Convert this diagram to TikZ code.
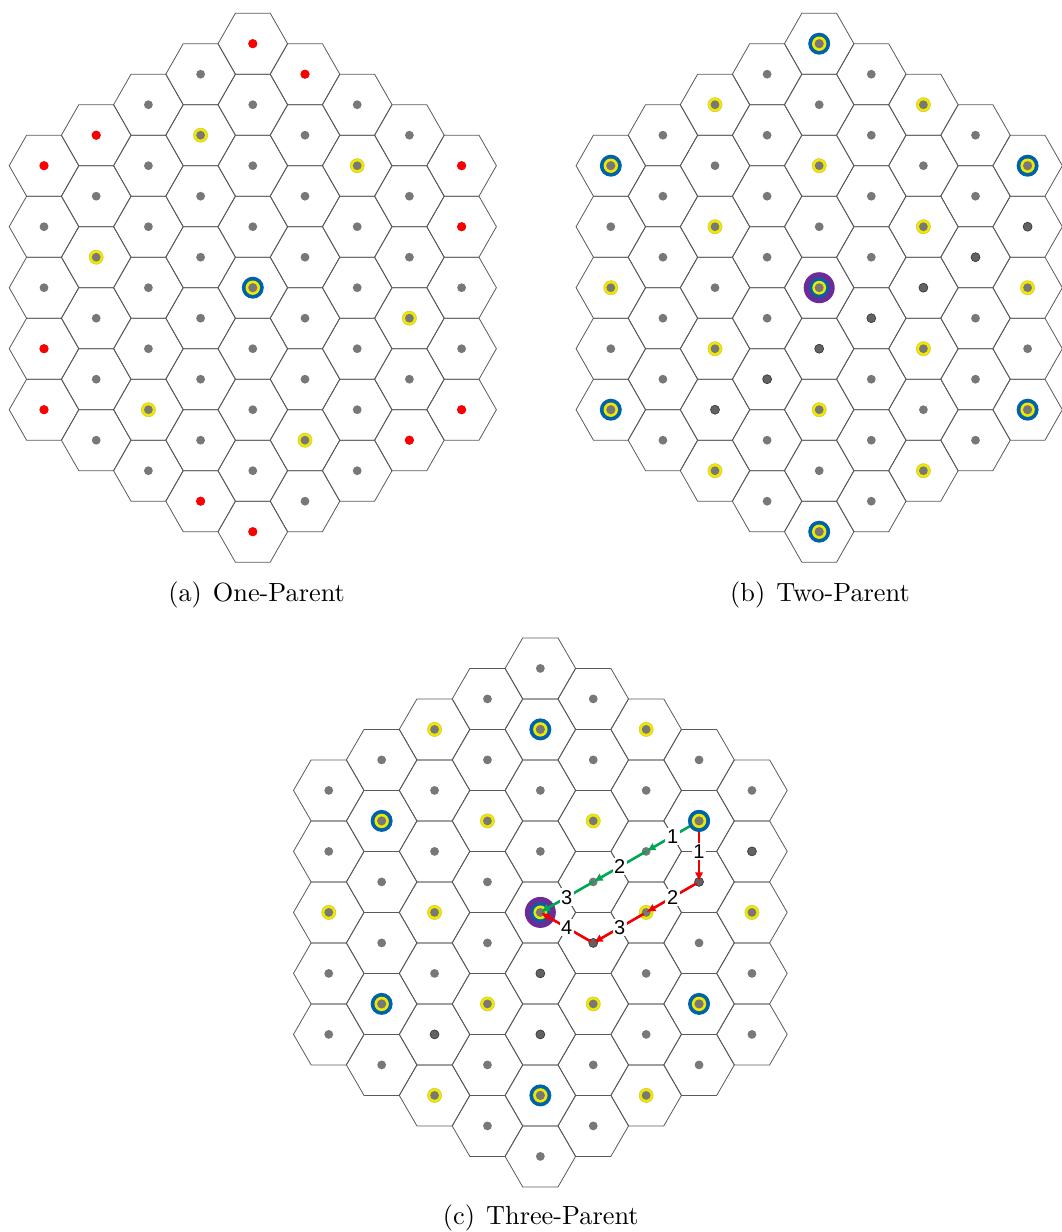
\documentclass[tikz,border=0pt]{standalone}
\usepackage{fontspec}
\newfontfamily\lblfont{Liberation Sans}
\newfontfamily\capfont{lmroman10-regular}[Extension=.otf]
\usetikzlibrary{arrows.meta}
\definecolor{hexc}{RGB}{90,90,90}
\definecolor{dotc}{RGB}{120,120,120}
\definecolor{darkdot}{RGB}{98,98,98}
\definecolor{darkedge}{RGB}{55,55,55}
\definecolor{redc}{RGB}{250,0,0}
\definecolor{yelc}{RGB}{240,232,0}
\definecolor{yeledge}{RGB}{205,198,60}
\definecolor{bluec}{RGB}{0,98,168}
\definecolor{purc}{RGB}{108,44,150}
\definecolor{arrgreen}{RGB}{0,166,81}
\definecolor{arrred}{RGB}{240,0,0}
\tikzset{
  hexedge/.style={draw=hexc, line width=0.8pt, line join=miter},
  captext/.style={inner sep=0pt, font=\capfont\fontsize{26.3}{30}\selectfont},
  steplbl/.style={fill=white, inner sep=1.6pt, font=\lblfont\fontsize{20}{20}\selectfont},
  garrow/.style={draw=arrgreen, line width=2.6pt, -{Latex[length=9pt,width=8.5pt]}, shorten >=0.5pt},
  rarrow/.style={draw=arrred, line width=2.6pt, -{Latex[length=9pt,width=8.5pt]}, shorten >=0.5pt, shorten <=3pt},
}
\newcommand\HexGridDraw{%
  \foreach \q in {-4,...,4}{%
    \pgfmathtruncatemacro\km{8-abs(\q)}%
    \foreach \j in {0,...,\km}{%
      \pgfmathtruncatemacro\kk{2*\j-\km}%
      \draw[hexedge] (\q,\kk) +(2/3,0) -- +(1/3,1) -- +(-1/3,1) -- +(-2/3,0) -- +(-1/3,-1) -- +(1/3,-1) -- cycle;
      \fill[dotc] (\q,\kk) circle[radius=4.4pt];
    }%
  }%
}
\newcommand\Rmark[1]{\fill[redc] (#1) circle[radius=4.6pt];}
\newcommand\Dmark[1]{\filldraw[fill=darkdot, draw=darkedge, line width=0.6pt] (#1) circle[radius=4.5pt];}
\newcommand\Ymark[1]{\filldraw[fill=yelc, draw=yeledge, line width=0.5pt] (#1) circle[radius=7.1pt];
  \fill[dotc] (#1) circle[radius=4.4pt];}
\newcommand\Bmark[1]{\fill[bluec] (#1) circle[radius=11pt];
  \fill[yelc] (#1) circle[radius=7.2pt];
  \fill[dotc] (#1) circle[radius=4.6pt];}
\newcommand\Pmark[1]{\fill[purc] (#1) circle[radius=15.5pt];
  \fill[bluec] (#1) circle[radius=10pt];
  \fill[yelc] (#1) circle[radius=6.9pt];
  \fill[dotc] (#1) circle[radius=4.5pt];}
\begin{document}
\begin{tikzpicture}[x=1pt,y=-1pt]
\useasboundingbox (0,0) rectangle (1062,1232);
% ---------------- (a) One-Parent
\begin{scope}[shift={(252.8,287.7)}, x=52.2pt, y=-30.5pt]
  \HexGridDraw
  \foreach \a/\b in {0/-8, 1/-7, -3/-5, -4/-4, 4/-4, 4/-2, -4/2, -4/4, 4/4, 3/5, -1/7, 0/8}{\Rmark{\a,\b}}
  \foreach \a/\b in {-1/-5, 2/-4, -3/-1, 3/1, -2/4, 1/5}{\Ymark{\a,\b}}
  \Bmark{0,0}
\end{scope}
\node[captext, anchor=base] (capa) at (256.6,601.3) {(a)\hspace{0.42em}One-Parent};
% ---------------- (b) Two-Parent
\begin{scope}[shift={(819.2,287.7)}, x=52.1pt, y=-30.5pt]
  \HexGridDraw
  \foreach \a/\b in {4/-2, 3/-1, 2/0, 1/1, 0/2, -1/3, -2/4}{\Dmark{\a,\b}}
  \foreach \a/\b in {-2/-6, 2/-6, 0/-4, -2/-2, 2/-2, -4/0, 4/0, -2/2, 2/2, 0/4, -2/6, 2/6}{\Ymark{\a,\b}}
  \foreach \a/\b in {0/-8, -4/-4, 4/-4, -4/4, 4/4, 0/8}{\Bmark{\a,\b}}
  \Pmark{0,0}
\end{scope}
\node[captext, anchor=base] (capb) at (820,601.3) {(b)\hspace{0.42em}Two-Parent};
% ---------------- (c) Three-Parent
\begin{scope}[shift={(540.35,912.4)}, x=52.9pt, y=-30.5pt]
  \HexGridDraw
  \foreach \a/\b in {4/-2, 3/-1, 1/1, 0/2, -2/4, 0/4}{\Dmark{\a,\b}}
  \foreach \a/\b in {-2/-6, 2/-6, -1/-3, 1/-3, -4/0, -2/0, 2/0, 4/0, -1/3, 1/3, -2/6, 2/6}{\Ymark{\a,\b}}
  \foreach \a/\b in {0/-6, -3/-3, 3/-3, -3/3, 3/3, 0/6}{\Bmark{\a,\b}}
  \Pmark{0,0}
  \coordinate (S) at (3,-3);
  \coordinate (G1) at (2,-2);
  \coordinate (G2) at (1,-1);
  \coordinate (T) at (0,0);
  \coordinate (R1) at (3,-1);
  \coordinate (R2) at (2,0);
  \coordinate (R3) at (1,1);
  \draw[garrow] (S) -- node[steplbl] (g1) {1} (G1);
  \draw[garrow] (G1) -- node[steplbl] (g2) {2} (G2);
  \draw[garrow] (G2) -- node[steplbl] (g3) {3} (T);
  \draw[rarrow] (S) -- node[steplbl] (r1) {1} (R1);
  \draw[rarrow] (R1) -- node[steplbl] (r2) {2} (R2);
  \draw[rarrow] (R2) -- node[steplbl] (r3) {3} (R3);
  \draw[rarrow] (R3) -- node[steplbl] (r4) {4} (T);
  \Bmark{3,-3}
\end{scope}
\node[captext, anchor=base] (capc) at (540.8,1224.8) {(c)\hspace{0.42em}Three-Parent};
\end{tikzpicture}
\end{document}
